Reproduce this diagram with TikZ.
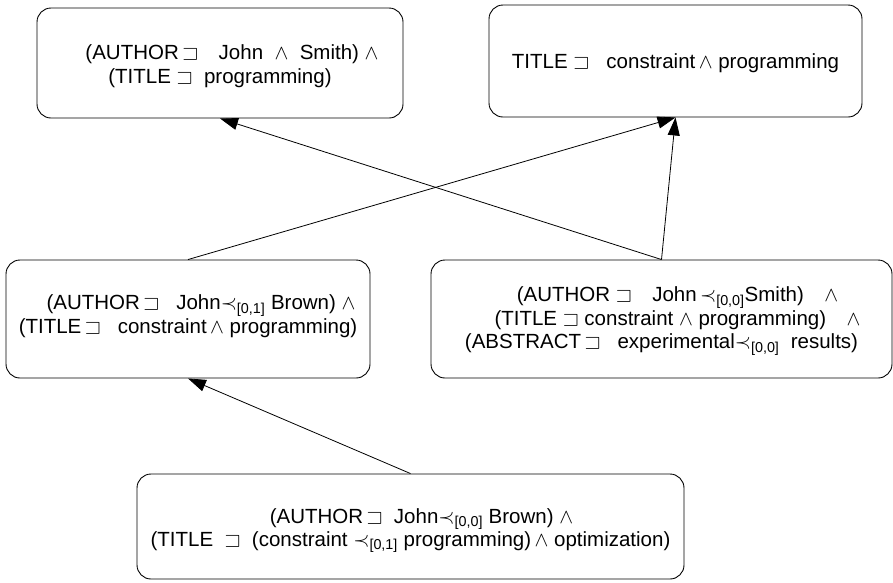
\documentclass[tikz,border=0pt]{standalone}
\usepackage{amssymb}
\usepackage{fontspec}
\setmainfont{Liberation Sans}
\usetikzlibrary{arrows.meta}
\newcommand{\pre}[1]{$\prec$\textsubscript{#1}}
\begin{document}
\begin{tikzpicture}[x=1pt,y=-1pt,
  qbox/.style={draw, line width=0.9pt, rounded corners=14pt, align=center, inner sep=0pt,
     font=\fontsize{20.5}{23.5}\selectfont},
  conn/.style={line width=0.8pt, -{Triangle[length=18pt,width=12pt]}}]
\useasboundingbox (0,0) rectangle (893,582);
\node[qbox, minimum width=366pt, minimum height=110pt, text height=44.5pt] (B1) at (220,63)
  {\hspace*{24pt}(AUTHOR\,$\sqsupset$\quad John\ \ $\wedge$\ \ Smith)\ $\wedge$\\(TITLE\ $\sqsupset$\ \ programming)};
\node[qbox, minimum width=373pt, minimum height=112pt, text height=19pt] (B2) at (675.5,61)
  {TITLE $\sqsupset$\ \ \ constraint\,$\wedge$\ programming};
\node[qbox, minimum width=364pt, minimum height=118pt] (B3) at (188,319)
  {\hspace*{26pt}(AUTHOR\,$\sqsupset$\ \ \ John\pre{[0,1]} Brown) $\wedge$\\(TITLE\,$\sqsupset$\ \ \ constraint\,$\wedge$\ programming)\\[-14pt]\mbox{}};
\node[qbox, minimum width=461pt, minimum height=118pt, text height=66pt] (B4) at (661.5,319)
  {\hspace*{32pt}(AUTHOR\ $\sqsupset$\quad John\,\pre{[0,0]}Smith)\quad$\wedge$\\\hspace*{32pt}(TITLE\ $\sqsupset$\ constraint\ $\wedge$ programming)\quad$\wedge$\\(ABSTRACT\,$\sqsupset$\ \ \ experimental\pre{[0,0]}\ \ results)};
\node[qbox, minimum width=547pt, minimum height=105pt, text height=46.5pt] (B5) at (410.5,526.5)
  {\hspace*{22pt}(AUTHOR\,$\sqsupset$\ \ John\pre{[0,0]}\ Brown)\ $\wedge$\\(TITLE\ \ $\sqsupset$\ \ (constraint \pre{[0,1]} programming)\,$\wedge$\ optimization)};
\draw[conn] (B4.north) -- (B1.south);
\draw[conn] (B4.north) -- (B2.south);
\draw[conn] (B3.north) -- (B2.south);
\draw[conn] (B5.north) -- (B3.south);
\end{tikzpicture}
\end{document}
